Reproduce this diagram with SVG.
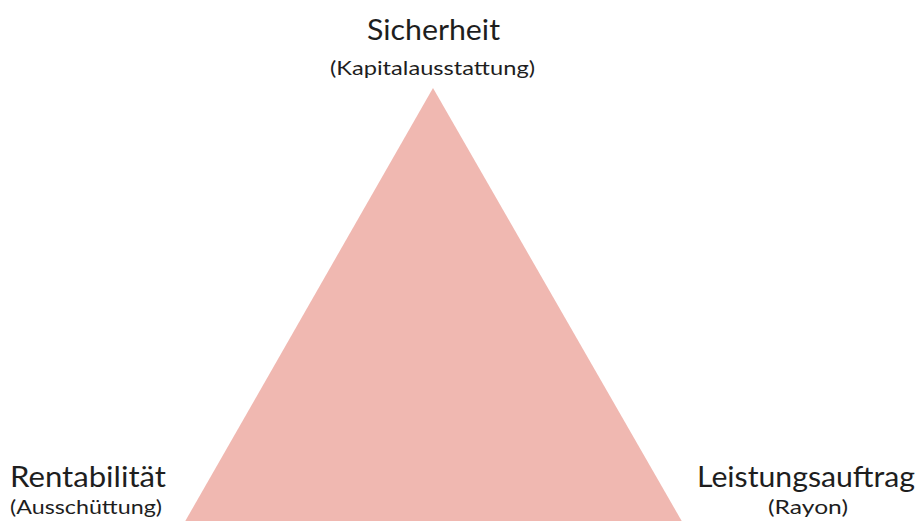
<svg xmlns="http://www.w3.org/2000/svg" width="919" height="521" viewBox="0 0 919 521">
<style>
.t{font-family:"Lato","Liberation Sans",sans-serif;fill:#1e1e1e}
.big{font-size:29px}
.small{font-size:20px}
</style>
<rect width="919" height="521" fill="#ffffff"/>
<g id="triangle"><polygon points="433,88 183,525 684,525" fill="#f0b8b1"/></g>
<g id="connectors"/>
<g id="sicherheit">
<text class="t big" x="367" y="40" textLength="133" lengthAdjust="spacingAndGlyphs">Sicherheit</text>
<text class="t small" x="330" y="75" textLength="205" lengthAdjust="spacingAndGlyphs">(Kapitalausstattung)</text>
</g>
<g id="rentabilitaet">
<text class="t big" x="10" y="487" textLength="156" lengthAdjust="spacingAndGlyphs">Rentabilität</text>
<text class="t small" x="10" y="514" textLength="152" lengthAdjust="spacingAndGlyphs">(Ausschüttung)</text>
</g>
<g id="leistungsauftrag">
<text class="t big" x="697" y="487" textLength="218" lengthAdjust="spacingAndGlyphs">Leistungsauftrag</text>
<text class="t small" x="768" y="514" textLength="80" lengthAdjust="spacingAndGlyphs">(Rayon)</text>
</g>
</svg>
